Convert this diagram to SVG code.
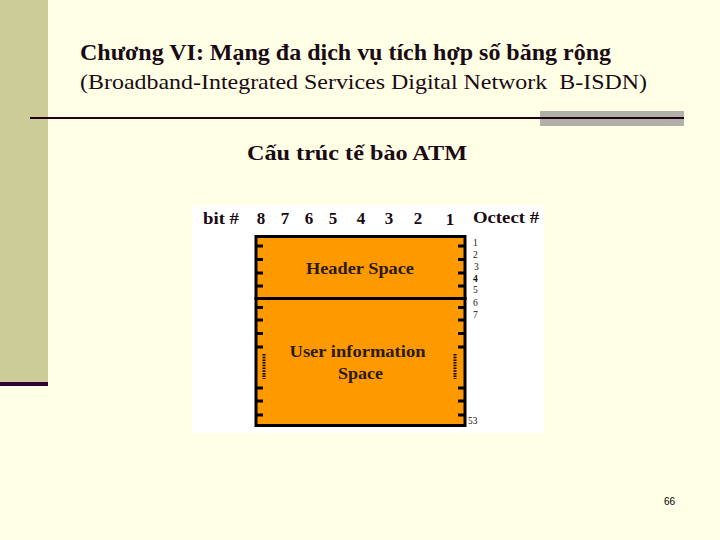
<svg xmlns="http://www.w3.org/2000/svg" width="720" height="540" viewBox="0 0 720 540">
<style>
.t{font-family:"Liberation Serif","Times New Roman",serif;fill:#1a0a14}
.b{font-weight:bold}
.cell{font-family:"Liberation Serif","Times New Roman",serif;font-weight:bold;fill:#2a1a0a;font-size:16.5px}
.oct{font-family:"Liberation Serif","Times New Roman",serif;font-size:9.5px;fill:#111}
.tick{stroke:#000;stroke-width:3}
.dots{stroke:#000;stroke-width:3;stroke-dasharray:1.5 1.2}
</style>
<rect width="720" height="540" fill="#FFFFE6"/>
<g id="decor">
<rect x="0" y="0" width="48" height="383" fill="#CCCC99"/>
<rect x="0" y="382" width="48" height="4" fill="#330033"/>
<rect x="540" y="111" width="144" height="15" fill="#B0B0A8"/>
<rect x="30" y="117" width="654" height="2" fill="#220011"/>
</g>
<g id="title">
<text class="t b" x="80" y="60" font-size="22.5" textLength="531" lengthAdjust="spacingAndGlyphs">Chương VI: Mạng đa dịch vụ tích hợp số băng rộng</text>
<text class="t" x="80" y="89" font-size="22" textLength="567" lengthAdjust="spacingAndGlyphs" xml:space="preserve">(Broadband-Integrated Services Digital Network  B-ISDN)</text>
<text class="t b" x="247" y="160" font-size="22" textLength="220" lengthAdjust="spacingAndGlyphs">Cấu trúc tế bào ATM</text>
</g>
<g id="figure">
<rect x="192" y="205" width="352" height="228" fill="#FFFFFF"/>
<g id="header-labels" class="t b" font-size="17">
<text x="203" y="224" textLength="36" lengthAdjust="spacingAndGlyphs">bit #</text>
<text x="261" y="224" text-anchor="middle">8</text>
<text x="285" y="224" text-anchor="middle">7</text>
<text x="309" y="224" text-anchor="middle">6</text>
<text x="333" y="224" text-anchor="middle">5</text>
<text x="361" y="224" text-anchor="middle">4</text>
<text x="389" y="224" text-anchor="middle">3</text>
<text x="418" y="224" text-anchor="middle">2</text>
<text x="450" y="225" text-anchor="middle">1</text>
<text x="473" y="223" textLength="66" lengthAdjust="spacingAndGlyphs">Octect #</text>
</g>
<g id="header-space">
<rect x="256" y="236.5" width="209" height="62" fill="#FF9900" stroke="#000" stroke-width="3"/>
<text class="cell" x="306" y="274" textLength="108" lengthAdjust="spacingAndGlyphs">Header Space</text>
</g>
<g id="user-space">
<rect x="256" y="298.5" width="209" height="127" fill="#FF9900" stroke="#000" stroke-width="3"/>
<text class="cell" x="289.5" y="357" textLength="136" lengthAdjust="spacingAndGlyphs">User information</text>
<text class="cell" x="338" y="379" textLength="45" lengthAdjust="spacingAndGlyphs">Space</text>
</g>
<g id="ticks">
<path class="tick" d="M256 246h7M256 259.5h7M256 273h7M256 286h7M256 307.5h7M256 320h7M256 333.5h7M256 347h7M256 388h7M256 401h7M256 415h7"/>
<path class="tick" d="M465 246h-7M465 259.5h-7M465 273h-7M465 286h-7M465 307.5h-7M465 320h-7M465 333.5h-7M465 347h-7M465 388h-7M465 401h-7M465 415h-7"/>
<path class="dots" d="M264 354v25M455 354v25"/>
</g>
<g id="octets" class="oct">
<text x="473" y="246">1</text>
<text x="473" y="258">2</text>
<text x="474" y="270">3</text>
<text x="473" y="282" font-weight="bold">4</text>
<text x="473" y="293">5</text>
<text x="473" y="306">6</text>
<text x="473" y="318">7</text>
<text x="468" y="424">53</text>
</g>
</g>
<text x="664" y="505" font-family="Liberation Sans, Arial, sans-serif" font-size="10" fill="#000">66</text>
</svg>
